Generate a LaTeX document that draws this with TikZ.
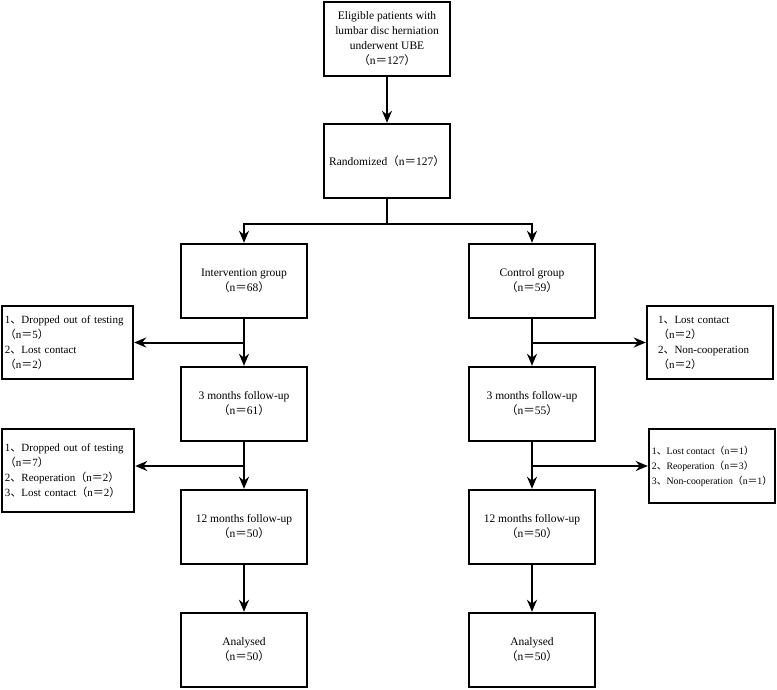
\documentclass[tikz,border=0pt]{standalone}
\usepackage{fontspec}
\setmainfont{Liberation Serif}
\newfontfamily\cjk{Noto Sans CJK SC}
\newcommand{\cjklp}{{\cjk （}}
\newcommand{\cjkrp}{{\cjk ）}}
\newcommand{\cjkeq}{{\cjk ＝}}
\newcommand{\cjkdun}{{\cjk 、}}
\newcommand{\nval}[1]{\cjklp n\cjkeq #1\cjkrp}
\usetikzlibrary{arrows.meta}
\begin{document}
\begin{tikzpicture}[x=1pt,y=-1pt,
  box/.style={draw, line width=2.4pt, minimum width=126pt, minimum height=74pt,
    align=center, inner sep=2pt, font=\fontsize{11.5}{15}\selectfont},
  side/.style={draw, line width=2.4pt, inner xsep=3pt, inner ysep=2pt, align=left,
    font=\fontsize{11}{15}\selectfont},
  ln/.style={line width=2pt},
  arr/.style={line width=2pt, -{Stealth[length=12pt,width=10pt]}}]
\useasboundingbox (0,0) rectangle (777,690);

\node[box] (top) at (387,39) {Eligible patients with\\lumbar disc herniation\\underwent UBE\\\nval{127}};
\node[box] (rand) at (387,161) {Randomized\nval{127}};
\node[box] (inter) at (244,281) {Intervention group\\\nval{68}};
\node[box] (ctrl) at (532,281) {Control group\\\nval{59}};
\node[box] (m3L) at (244,404) {3 months follow-up\\\nval{61}};
\node[box] (m3R) at (532,404) {3 months follow-up\\\nval{55}};
\node[box] (m12L) at (244,527) {12 months follow-up\\\nval{50}};
\node[box] (m12R) at (532,527) {12 months follow-up\\\nval{50}};
\node[box] (anL) at (244,650) {Analysed\\\nval{50}};
\node[box] (anR) at (532,650) {Analysed\\\nval{50}};

\node[side, minimum width=131pt, minimum height=73pt, text width=125pt] (d1L) at (67.5,342.5)
  {1\cjkdun Dropped out of testing\\\nval{5}\\2\cjkdun Lost contact\\\nval{2}};
\node[side, minimum width=126pt, minimum height=73pt, text width=104pt] (d1R) at (710,342.5)
  {1\cjkdun Lost contact\\\nval{2}\\2\cjkdun Non-cooperation\\\nval{2}};
\node[side, minimum width=132pt, minimum height=83pt, text width=126pt] (d2L) at (68,470.5)
  {1\cjkdun Dropped out of testing\\\nval{7}\\2\cjkdun Reoperation\nval{2}\\3\cjkdun Lost contact\nval{2}};
\node[side, minimum width=126pt, minimum height=74pt, inner xsep=1pt,
  font=\fontsize{9.8}{15}\selectfont] (d2R) at (712,466)
  {1\cjkdun Lost contact\nval{1}\\2\cjkdun Reoperation\nval{3}\\3\cjkdun Non-cooperation\nval{1}};

\coordinate (split) at (387,224);
\draw[arr] (top) -- (rand);
\draw[ln] (rand.south) -- (split);
\draw[arr] (split) -| (inter.north);
\draw[arr] (split) -| (ctrl.north);

\draw[arr] (inter) -- (m3L);
\draw[arr] (ctrl) -- (m3R);
\draw[arr] (m3L) -- (m12L);
\draw[arr] (m3R) -- (m12R);
\draw[arr] (m12L) -- (anL);
\draw[arr] (m12R) -- (anR);

\draw[arr] (inter.south |- d1L.east) -- (d1L.east);
\draw[arr] (ctrl.south |- d1R.west) -- (d1R.west);
\coordinate (b2L) at (244,466);
\draw[arr] (b2L) -- (b2L -| d2L.east);
\draw[arr] (m3R.south |- d2R.west) -- (d2R.west);
\end{tikzpicture}
\end{document}
